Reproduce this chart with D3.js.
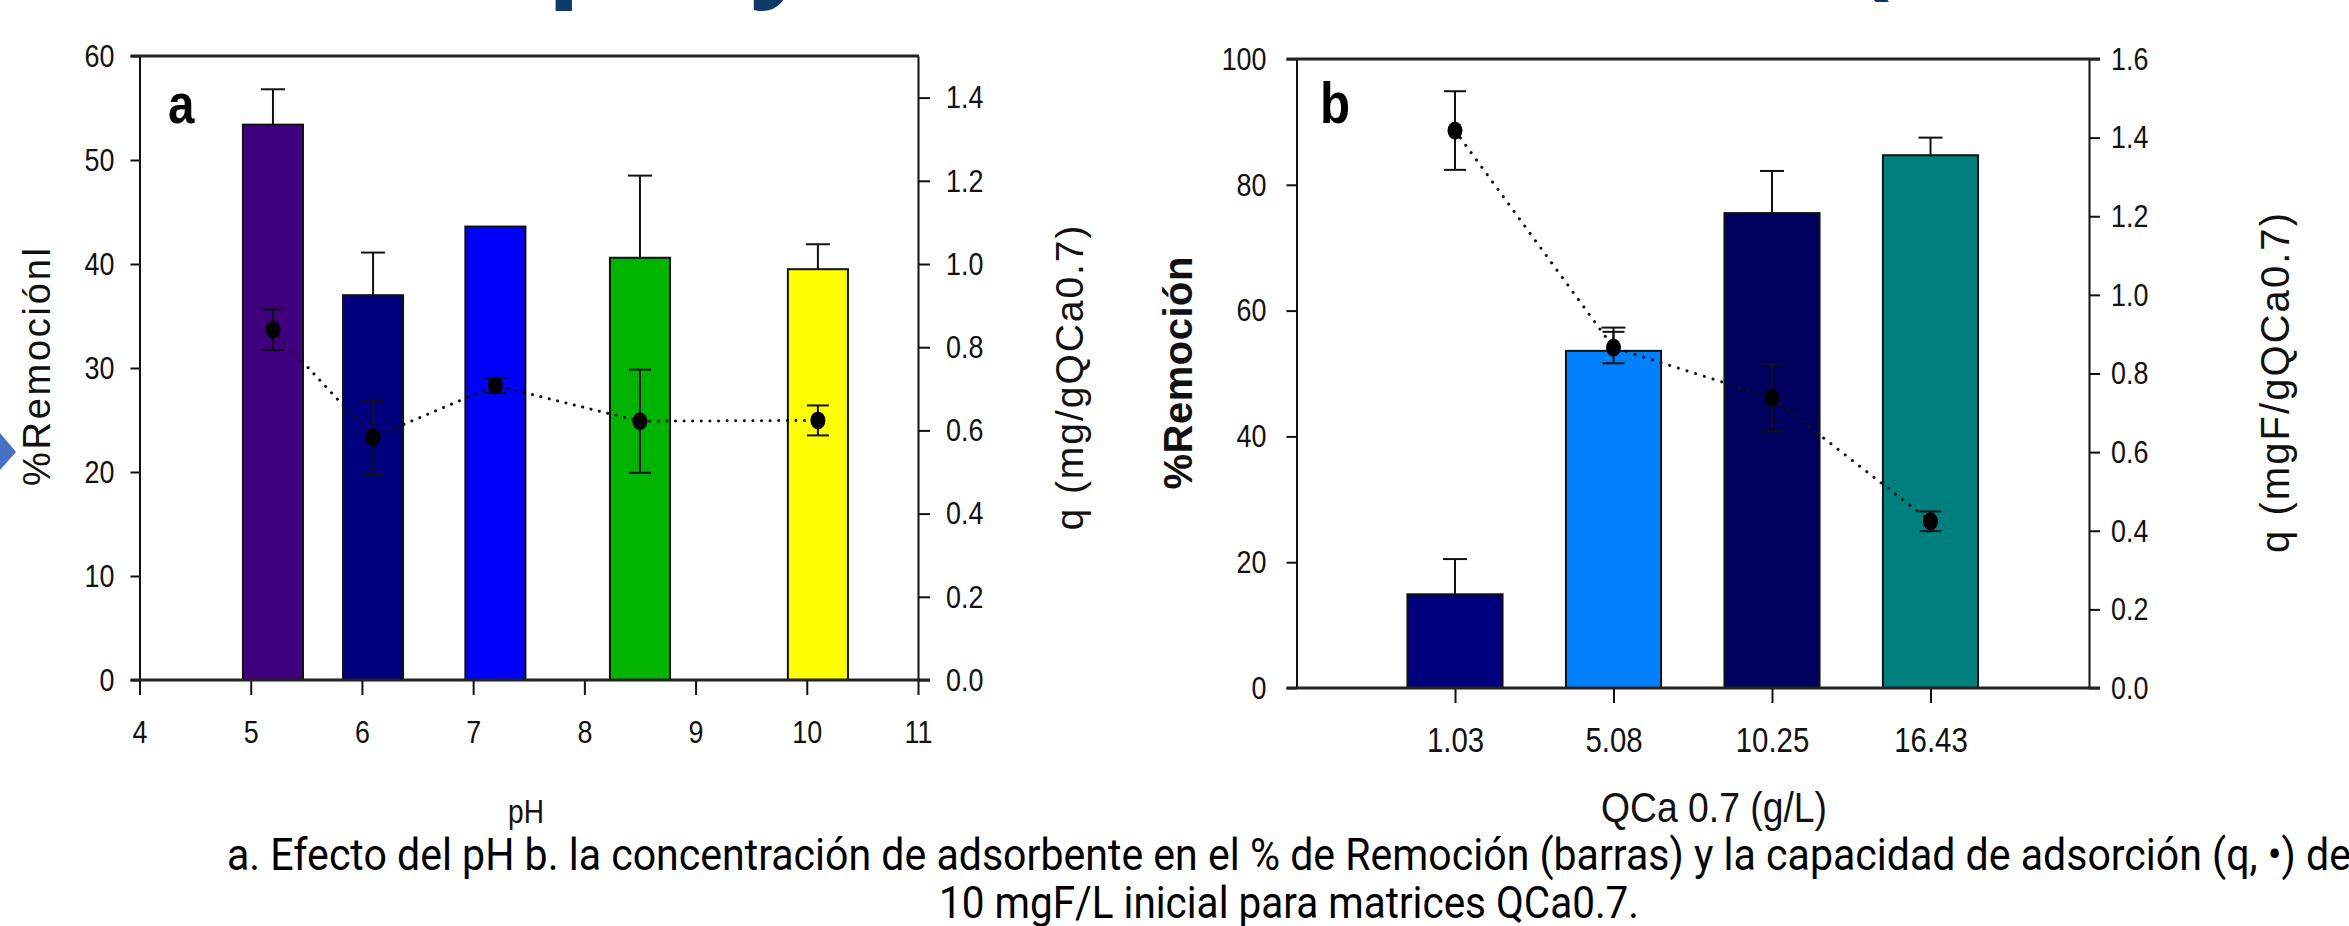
<!DOCTYPE html>
<html>
<head>
<meta charset="utf-8">
<script src="https://cdn.jsdelivr.net/npm/d3@7"></script>
<style>
  html, body { margin: 0; padding: 0; background: #fff; }
  svg { display: block; }
</style>
</head>
<body>
<svg id="chart" width="2349" height="926"></svg>
<script>
// ---------- Data ----------
// Panel a: effect of pH
const phValues      = [5.2, 6.1, 7.2, 8.5, 10.1];
const removalA      = [53.4, 37.0, 43.6, 40.6, 39.5];
const removalAErr   = [3.4, 4.1, 0, 7.9, 2.4];
const qA            = [0.842, 0.583, 0.708, 0.622, 0.624];
const qAErr         = [0.049, 0.089, 0.018, 0.124, 0.036];
const barColorsA    = ["#3f007f", "#00007f", "#0000ff", "#00b400", "#ffff00"];
const xTicksA       = [4, 5, 6, 7, 8, 9, 10, 11];
const yTicksA       = [0, 10, 20, 30, 40, 50, 60];
const qTicksA       = [0, 0.2, 0.4, 0.6, 0.8, 1.0, 1.2, 1.4];

// Panel b: adsorbent dose
const doses         = ["1.03", "5.08", "10.25", "16.43"];
const removalB      = [14.9, 53.6, 75.5, 84.7];
const removalBErr   = [5.6, 3.7, 6.7, 2.8];
const qB            = [1.418, 0.866, 0.738, 0.424];
const qBErr         = [0.1, 0.04, 0.085, 0.025];
const barColorsB    = ["#00007f", "#0080ff", "#00005e", "#007f7f"];
const yTicksB       = [0, 20, 40, 60, 80, 100];
const qTicksB       = [0, 0.2, 0.4, 0.6, 0.8, 1.0, 1.2, 1.4, 1.6];

const captionLines = [
  "a. Efecto del pH  b. la concentración de adsorbente en el % de Remoción (barras) y la capacidad de adsorción (q, •) de",
  "10 mgF/L inicial para matrices QCa0.7."
];

// ---------- Drawing ----------
const svg = d3.select("#chart");
const arial = "'Liberation Sans', Arial, sans-serif";

function squeeze(sel, f) {
  sel.each(function () {
    const w = this.getComputedTextLength();
    d3.select(this).attr("textLength", w * f).attr("lengthAdjust", "spacingAndGlyphs");
  });
}

// decorative fragments of the slide title (cut at the top)
const titleG = svg.append("g").attr("fill", "#0e3a6a")
  .attr("font-family", "'Open Sans', 'Noto Sans', sans-serif").attr("font-weight", 700).attr("font-size", 110);
titleG.append("text").attr("x", 547).attr("y", -15).text("p");
titleG.append("text").attr("x", 750).attr("y", -15).text("y");
titleG.append("text").attr("x", 1855).attr("y", -15).text("(");

// blue diamond fragment at the left edge
svg.append("polygon").attr("points", "0,433 16,452 0,470").attr("fill", "#4472c4");

function errBar(g, x, yTop, yBot, cap) {
  g.append("line").attr("x1", x).attr("x2", x).attr("y1", yTop).attr("y2", yBot);
  g.append("line").attr("x1", x - cap / 2).attr("x2", x + cap / 2).attr("y1", yTop).attr("y2", yTop);
}
function errBar2(g, x, yTop, yBot, cap) {
  errBar(g, x, yTop, yBot, cap);
  g.append("line").attr("x1", x - cap / 2).attr("x2", x + cap / 2).attr("y1", yBot).attr("y2", yBot);
}

function styleAxis(g, fontSize) {
  g.select(".domain").attr("stroke", "#111").attr("stroke-width", 2);
  g.selectAll(".tick line").attr("stroke", "#111").attr("stroke-width", 2);
  g.selectAll(".tick text").attr("font-size", fontSize).attr("font-family", arial).attr("fill", "#111");
  squeeze(g.selectAll(".tick text"), 0.84);
}

// ===== Panel a =====
(function () {
  const L = 139.5, R = 918, T = 56, B = 680;
  const x = d3.scaleLinear().domain([4, 11]).range([L, R]);
  const yL = d3.scaleLinear().domain([0, 60]).range([B, T]);
  const yR = d3.scaleLinear().domain([0, 1.5]).range([B, T]);
  const g = svg.append("g");
  const halfW = (x(4.54) - x(4)) / 2;

  g.selectAll("rect.bar").data(phValues).join("rect")
    .attr("x", d => x(d) - halfW).attr("width", halfW * 2)
    .attr("y", (d, i) => yL(removalA[i])).attr("height", (d, i) => B - yL(removalA[i]))
    .attr("fill", (d, i) => barColorsA[i]).attr("stroke", "#111").attr("stroke-width", 2);

  const eb = g.append("g").attr("stroke", "#111").attr("stroke-width", 2);
  phValues.forEach((d, i) => {
    if (removalAErr[i] > 0) errBar(eb, x(d), yL(removalA[i] + removalAErr[i]), yL(removalA[i]), 24);
  });

  const line = d3.line().x((d, i) => x(phValues[i])).y(d => yR(d));
  g.append("path").attr("d", line(qA)).attr("fill", "none").attr("stroke", "#111")
    .attr("stroke-width", 3).attr("stroke-dasharray", "0.1,8.5").attr("stroke-linecap", "round");

  const pe = g.append("g").attr("stroke", "#111").attr("stroke-width", 2);
  qA.forEach((d, i) => errBar2(pe, x(phValues[i]), yR(d + qAErr[i]), yR(d - qAErr[i]), 22));
  g.selectAll("ellipse.pt").data(qA).join("ellipse")
    .attr("cx", (d, i) => x(phValues[i])).attr("cy", d => yR(d)).attr("rx", 7.5).attr("ry", 9).attr("fill", "#000");

  const ax = g.append("g").attr("transform", `translate(0,${B})`)
    .call(d3.axisBottom(x).tickValues(xTicksA).tickFormat(d3.format("d")).tickSize(15).tickSizeOuter(0).tickPadding(25));
  styleAxis(ax, 32); ax.select(".domain").remove();
  const al = g.append("g").attr("transform", `translate(${L},0)`)
    .call(d3.axisLeft(yL).tickValues(yTicksA).tickSize(9).tickSizeOuter(0).tickPadding(16));
  styleAxis(al, 32);
  const ar = g.append("g").attr("transform", `translate(${R},0)`)
    .call(d3.axisRight(yR).tickValues(qTicksA).tickFormat(d3.format(".1f")).tickSize(12).tickSizeOuter(0).tickPadding(16));
  styleAxis(ar, 32);
  g.append("line").attr("x1", L - 9).attr("x2", R + 1).attr("y1", T).attr("y2", T).attr("stroke", "#222").attr("stroke-width", 3);
  g.append("line").attr("x1", L - 9).attr("x2", R + 12).attr("y1", B).attr("y2", B).attr("stroke", "#222").attr("stroke-width", 3);

  const la = g.append("text").attr("x", 168).attr("y", 123).attr("font-family", arial).attr("font-weight", 700)
    .attr("font-size", 56).attr("fill", "#000").text("a");
  squeeze(la, 0.85);

  g.append("text").attr("transform", "translate(50,367) rotate(-90)").attr("text-anchor", "middle")
    .attr("font-family", arial).attr("font-size", 38).attr("fill", "#111")
    .attr("textLength", 238).attr("lengthAdjust", "spacing").text("%Remociónl");
  g.append("text").attr("transform", "translate(1083,378) rotate(-90)").attr("text-anchor", "middle")
    .attr("font-family", arial).attr("font-size", 39).attr("fill", "#111")
    .attr("textLength", 305).attr("lengthAdjust", "spacing").text("q (mg/gQCa0.7)");
  const ph = g.append("text").attr("x", 526).attr("y", 823).attr("text-anchor", "middle")
    .attr("font-family", arial).attr("font-size", 33).attr("fill", "#111").text("pH");
  squeeze(ph, 0.85);
})();

// ===== Panel b =====
(function () {
  const L = 1296.5, R = 2089, T = 59, B = 688;
  const x = d3.scalePoint().domain(doses).range([L, R]).padding(1);
  const yL = d3.scaleLinear().domain([0, 100]).range([B, T]);
  const yR = d3.scaleLinear().domain([0, 1.6]).range([B, T]);
  const g = svg.append("g");
  const bw = x.step() * 0.6;

  g.selectAll("rect.bar").data(doses).join("rect")
    .attr("x", d => x(d) - bw / 2).attr("width", bw)
    .attr("y", (d, i) => yL(removalB[i])).attr("height", (d, i) => B - yL(removalB[i]))
    .attr("fill", (d, i) => barColorsB[i]).attr("stroke", "#111").attr("stroke-width", 2);

  const eb = g.append("g").attr("stroke", "#111").attr("stroke-width", 2);
  doses.forEach((d, i) => errBar(eb, x(d), yL(removalB[i] + removalBErr[i]), yL(removalB[i]), 24));

  const line = d3.line().x((d, i) => x(doses[i])).y(d => yR(d));
  g.append("path").attr("d", line(qB)).attr("fill", "none").attr("stroke", "#111")
    .attr("stroke-width", 3).attr("stroke-dasharray", "0.1,9").attr("stroke-linecap", "round");

  const pe = g.append("g").attr("stroke", "#111").attr("stroke-width", 2);
  qB.forEach((d, i) => errBar2(pe, x(doses[i]), yR(d + qBErr[i]), yR(d - qBErr[i]), 22));
  g.selectAll("ellipse.pt").data(qB).join("ellipse")
    .attr("cx", (d, i) => x(doses[i])).attr("cy", d => yR(d)).attr("rx", 7.5).attr("ry", 9).attr("fill", "#000");

  const ax = g.append("g").attr("transform", `translate(0,${B})`)
    .call(d3.axisBottom(x).tickSize(15).tickSizeOuter(0).tickPadding(24));
  styleAxis(ax, 35); ax.select(".domain").remove();
  const al = g.append("g").attr("transform", `translate(${L},0)`)
    .call(d3.axisLeft(yL).tickValues(yTicksB).tickSize(10).tickSizeOuter(0).tickPadding(20));
  styleAxis(al, 32);
  const ar = g.append("g").attr("transform", `translate(${R},0)`)
    .call(d3.axisRight(yR).tickValues(qTicksB).tickFormat(d3.format(".1f")).tickSize(11).tickSizeOuter(0).tickPadding(11));
  styleAxis(ar, 32);
  g.append("line").attr("x1", L - 10).attr("x2", R + 11).attr("y1", T).attr("y2", T).attr("stroke", "#222").attr("stroke-width", 3);
  g.append("line").attr("x1", L - 10).attr("x2", R + 11).attr("y1", B).attr("y2", B).attr("stroke", "#222").attr("stroke-width", 3);

  const lb = g.append("text").attr("x", 1320).attr("y", 123).attr("font-family", arial).attr("font-weight", 700)
    .attr("font-size", 58).attr("fill", "#000").text("b");
  squeeze(lb, 0.85);

  g.append("text").attr("transform", "translate(1192,373) rotate(-90)").attr("text-anchor", "middle")
    .attr("font-family", arial).attr("font-weight", 700).attr("font-size", 40).attr("fill", "#111")
    .attr("textLength", 233).attr("lengthAdjust", "spacing").text("%Remoción");
  g.append("text").attr("transform", "translate(2289,383) rotate(-90)").attr("text-anchor", "middle")
    .attr("font-family", arial).attr("font-size", 40).attr("fill", "#111")
    .attr("textLength", 340).attr("lengthAdjust", "spacing").text("q (mgF/gQCa0.7)");
  g.append("text").attr("x", 1714).attr("y", 822).attr("text-anchor", "middle")
    .attr("font-family", arial).attr("font-size", 43).attr("fill", "#111")
    .attr("textLength", 226).attr("lengthAdjust", "spacingAndGlyphs").text("QCa 0.7 (g/L)");
})();

// caption
const cap = svg.append("g").attr("font-family", "Roboto, 'Noto Sans', sans-serif").attr("font-size", 45)
  .attr("font-weight", 400).attr("fill", "#000");
const capY = [870, 918], capW = [2124, 700];
captionLines.forEach((t, i) => {
  cap.append("text").attr("x", 1289).attr("y", capY[i]).attr("text-anchor", "middle")
    .attr("textLength", capW[i]).attr("lengthAdjust", "spacingAndGlyphs").text(t);
});
</script>
</body>
</html>
